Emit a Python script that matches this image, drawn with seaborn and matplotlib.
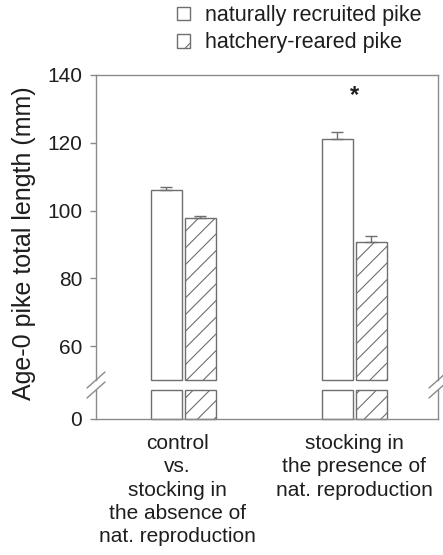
import matplotlib
matplotlib.use("Agg")
import matplotlib.pyplot as plt
from matplotlib.patches import Patch
from matplotlib.lines import Line2D
from matplotlib.transforms import ScaledTranslation
import numpy as np
import pandas as pd
import seaborn as sns

# Treatments (x categories) and fish origin (bar series)
groups = ["control\nvs.\nstocking in\nthe absence of\nnat. reproduction",
          "stocking in\nthe presence of\nnat. reproduction"]
origins = ["naturally recruited pike", "hatchery-reared pike"]

# Mean total length (mm) and standard error per origin, in group order
natural_mean = [106.0, 121.2]
natural_se = [0.9, 2.0]
hatchery_mean = [97.7, 90.6]
hatchery_se = [0.8, 2.0]

upper_ticks = [60, 80, 100, 120, 140]
lower_ticks = [0]

df = pd.DataFrame({
    "group": groups * 2,
    "origin": [origins[0]] * 2 + [origins[1]] * 2,
    "length": natural_mean + hatchery_mean,
    "se": natural_se + hatchery_se,
})

sns.set_theme(style="white")
plt.rcParams["font.family"] = ["Liberation Sans", "DejaVu Sans"]
plt.rcParams["hatch.linewidth"] = 0.8

edge = "#6f6f6f"
axis_col = "#8a8a8a"
text_col = "#1e1e1e"
plt.rcParams["hatch.color"] = edge

W, H = 443, 555
fig = plt.figure(figsize=(W / 100, H / 100), dpi=100)

def px_axes(left, top, right, bottom):
    return fig.add_axes([left / W, 1 - bottom / H, (right - left) / W, (bottom - top) / H])

ax_hi = px_axes(96, 75, 438, 380)
ax_lo = px_axes(96, 390, 438, 419)

bar_kw = dict(data=df, x="group", y="length", hue="origin", hue_order=origins,
              palette=["white", "white"], edgecolor=edge, linewidth=1.0,
              errorbar=None, width=0.4, gap=0.09, legend=False)
sns.barplot(ax=ax_hi, **bar_kw)
sns.barplot(ax=ax_lo, **bar_kw)

hi_lim = (50, 140)
lo_lim = (0, 8.56)
ax_hi.set_ylim(*hi_lim)
ax_lo.set_ylim(*lo_lim)
for ax in (ax_hi, ax_lo):
    ax.set_xlim(-0.51, 1.49)

n = len(groups)
# Patches are ordered by hue level: first the natural bars, then the hatchery bars
for ax in (ax_hi, ax_lo):
    for i, p in enumerate(ax.patches):
        if i >= n:
            p.set_hatch("//")
        p.set_clip_on(False)

# Trim each bar to the visible segment of its axis
for p in ax_hi.patches:
    top = p.get_y() + p.get_height()
    p.set_y(hi_lim[0])
    p.set_height(top - hi_lim[0])
for p in ax_lo.patches:
    p.set_height(min(p.get_height(), lo_lim[1]))

# Upward error bars (standard error)
means = natural_mean + hatchery_mean
ses = natural_se + hatchery_se
xs = [p.get_x() + p.get_width() / 2 for p in ax_hi.patches]
ax_hi.errorbar(xs, means, yerr=[np.zeros(len(ses)), ses], fmt="none",
               ecolor=edge, elinewidth=1.0, capsize=4.5, capthick=1.0, zorder=1)

# Significance marker
ax_hi.text(1, 134, "*", ha="center", va="center", fontsize=17,
           fontweight="bold", color=text_col)

# Axes styling
ax_hi.set_yticks(upper_ticks)
ax_lo.set_yticks(lower_ticks)
for ax in (ax_hi, ax_lo):
    for s in ax.spines.values():
        s.set_color(axis_col)
        s.set_linewidth(1.0)
    ax.set_xlabel("")
    ax.set_ylabel("")
    ax.tick_params(axis="y", direction="out", length=4, width=1, color=axis_col,
                   labelsize=15, labelcolor=text_col, pad=6, left=True)
ax_hi.spines["bottom"].set_visible(False)
ax_lo.spines["top"].set_visible(False)
ax_hi.tick_params(axis="x", bottom=False, labelbottom=False)
ax_lo.tick_params(axis="x", bottom=False, labelsize=15, labelcolor=text_col, pad=5)
xlabels = ax_lo.get_xticklabels()
for lab in xlabels:
    lab.set_linespacing(1.28)
# the first, longer label sits slightly left of its bar pair
xlabels[0].set_transform(xlabels[0].get_transform()
                         + ScaledTranslation(-0.06, 0, fig.dpi_scale_trans))

# Axis-break slashes on both vertical spines
def slash(xpx, ypx):
    fig.add_artist(Line2D([(xpx - 9) / W, (xpx + 9) / W],
                          [1 - (ypx + 8) / H, 1 - (ypx - 8) / H],
                          transform=fig.transFigure, color=axis_col, lw=1.0))

for xpx in (96, 438):
    slash(xpx, 380)
    slash(xpx, 390)

fig.text(24 / W, 1 - 243 / H, "Age-0 pike total length (mm)", rotation=90,
         ha="center", va="center", fontsize=18, color=text_col)

handles = [Patch(facecolor="white", edgecolor=edge, linewidth=1.0),
           Patch(facecolor="white", edgecolor=edge, linewidth=1.0, hatch="/")]
fig.legend(handles, origins, loc="upper left", bbox_to_anchor=(177 / W, 1 - 5 / H),
           frameon=False, fontsize=15.5, handlelength=0.6, handleheight=0.6,
           handletextpad=0.7, labelspacing=0.3, borderpad=0, borderaxespad=0,
           labelcolor=text_col)

fig.savefig("out.png", dpi=100)
